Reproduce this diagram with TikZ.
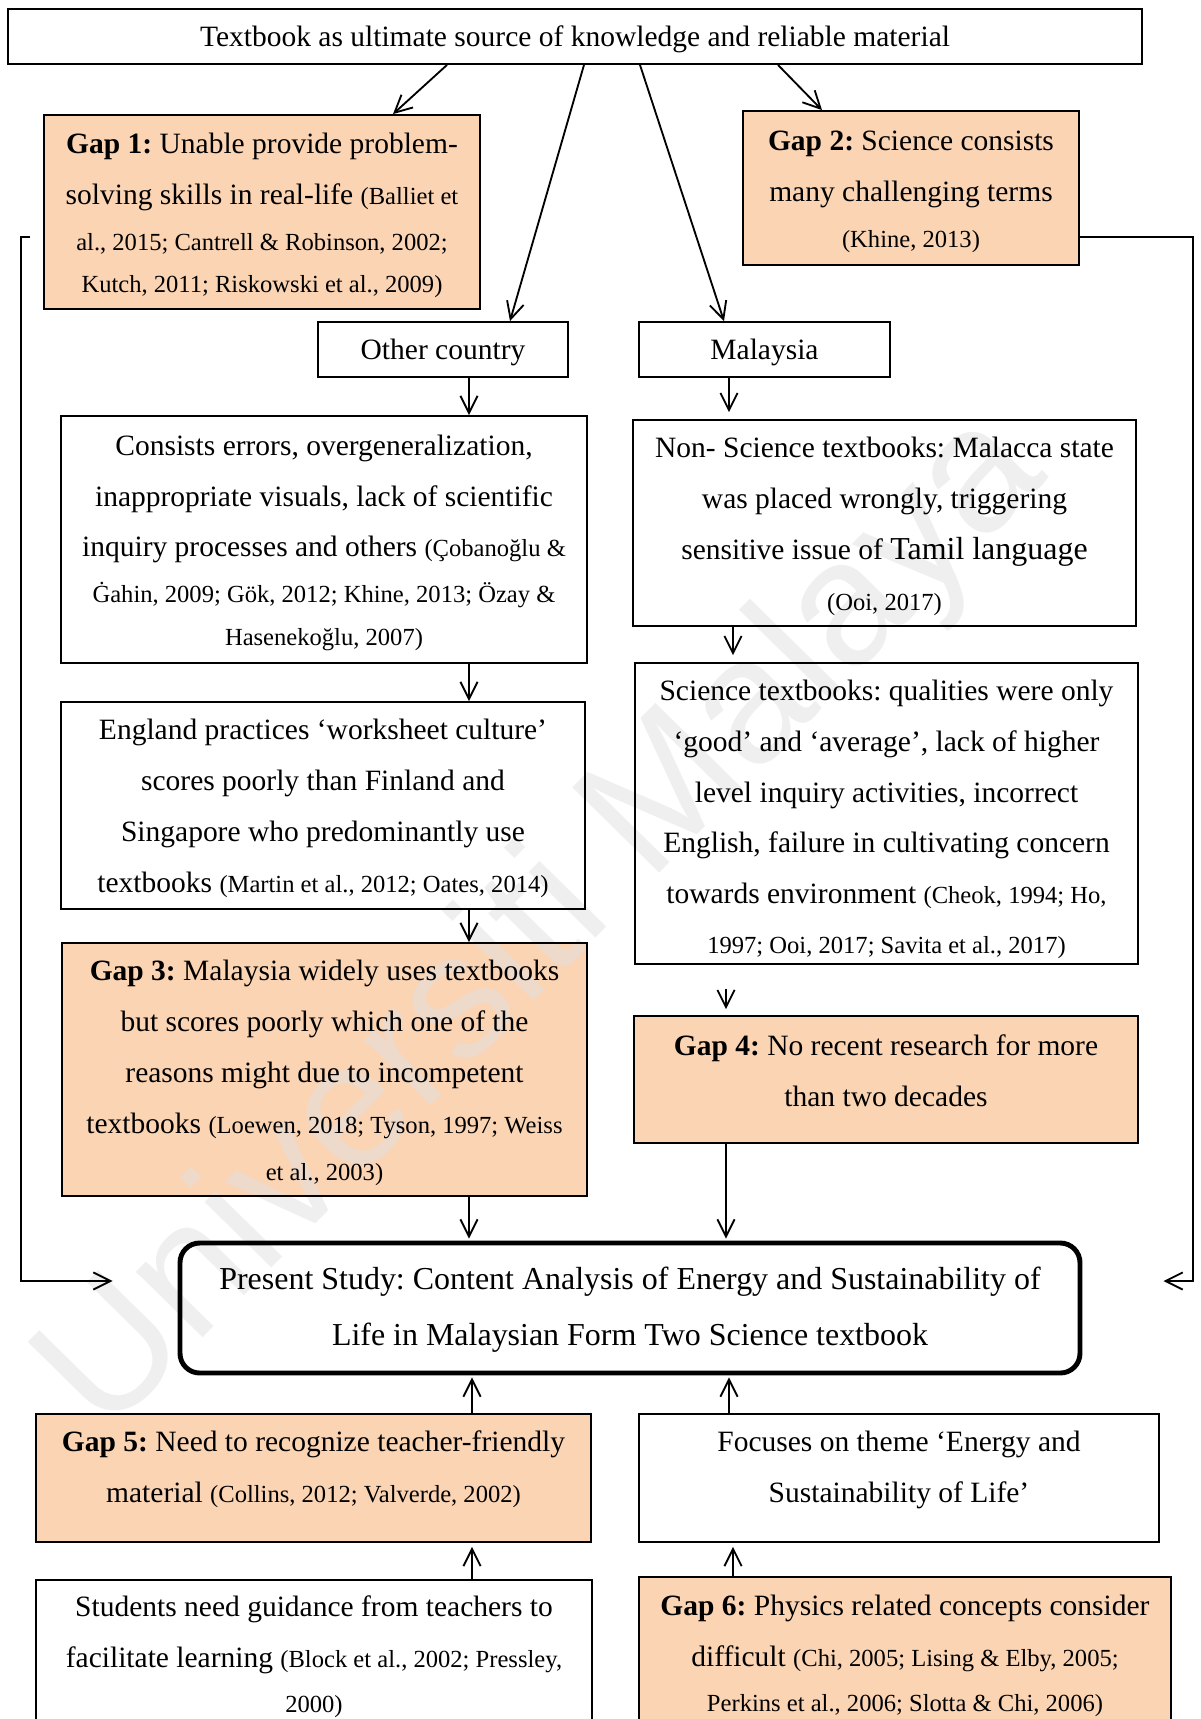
\documentclass[tikz,border=0pt]{standalone}
\usepackage{fontspec}
\setmainfont{Liberation Serif}
\newfontfamily\wmfont{Liberation Sans}
\usetikzlibrary{arrows.meta}
\frenchspacing

\definecolor{gapfill}{HTML}{FBD4B4}
\newcommand{\pxu}{0.4068pt}
\newcommand{\citetxt}[1]{{\fontsize{10}{20.7}\selectfont #1}}
\newcommand{\topstrut}{\rule{0pt}{10.9pt}}

\pgfdeclarelayer{background}
\pgfdeclarelayer{watermark}
\pgfsetlayers{background,watermark,main}

\tikzset{
  plainbox/.style={draw, line width=0.75pt, align=center, inner sep=2pt, font=\fontsize{12}{20.7}\selectfont},
  gapbox/.style={plainbox},
  arr/.style={-{Straight Barb[length=7pt,width=7pt]}, line width=0.75pt},
}

\begin{document}
\begin{tikzpicture}[x=0.4068pt, y=-0.4068pt]
\useasboundingbox (0,0) rectangle (1200,1719);
\clip (0,0) rectangle (1200,1719);

\node[plainbox, minimum width=1134*\pxu, minimum height=55*\pxu] (top) at (575,36.5) {\topstrut Textbook as ultimate source of knowledge and reliable material};

\node[gapbox, minimum width=436*\pxu, minimum height=194*\pxu] (gap1) at (262,212) {\topstrut\textbf{Gap 1:} Unable provide problem-\\solving skills in real-life \citetxt{(Balliet et}\\[-2pt]\citetxt{al., 2015; Cantrell \& Robinson, 2002;}\\[-3.6pt]\citetxt{Kutch, 2011; Riskowski et al., 2009)}};
\node[gapbox, minimum width=336*\pxu, minimum height=154*\pxu] (gap2) at (911,188) {\topstrut\textbf{Gap 2:} Science consists\\many challenging terms\\[-2pt]\citetxt{(Khine, 2013)}};

\node[plainbox, minimum width=250*\pxu, minimum height=55*\pxu] (oc) at (443,349.5) {\topstrut Other country};
\node[plainbox, minimum width=251*\pxu, minimum height=55*\pxu] (mal) at (764.5,349.5) {\topstrut Malaysia};

\node[plainbox, minimum width=526*\pxu, minimum height=247*\pxu] (cons) at (324,539.5) {\topstrut Consists errors, overgeneralization,\\inappropriate visuals, lack of scientific\\inquiry processes and others \citetxt{(Çobanoğlu \&}\\[-2pt]\citetxt{Ġahin, 2009; Gök, 2012; Khine, 2013; Özay \&}\\[-3.4pt]\citetxt{Hasenekoğlu, 2007)}};
\node[plainbox, minimum width=503*\pxu, minimum height=206*\pxu] (nonsci) at (884.5,523) {\topstrut Non- Science textbooks: Malacca state\\was placed wrongly, triggering\\sensitive issue of {\fontsize{13}{20.7}\selectfont Tamil language}\\\citetxt{(Ooi, 2017)}};

\node[plainbox, minimum width=524*\pxu, minimum height=207*\pxu] (eng) at (323,805.5) {\topstrut England practices ‘worksheet culture’\\scores poorly than Finland and\\Singapore who predominantly use\\textbooks \citetxt{(Martin et al., 2012; Oates, 2014)}};
\node[plainbox, minimum width=503*\pxu, minimum height=301*\pxu, text depth=0pt] (sci) at (886.5,813.5) {\topstrut Science textbooks: qualities were only\\‘good’ and ‘average’, lack of higher\\level inquiry activities, incorrect\\English, failure in cultivating concern\\towards environment \citetxt{(Cheok, 1994; Ho,}\\[-0.5pt]\citetxt{1997; Ooi, 2017; Savita et al., 2017)}};

\node[gapbox, minimum width=525*\pxu, minimum height=253*\pxu] (gap3) at (324.5,1069.5) {\topstrut\textbf{Gap 3:} Malaysia widely uses textbooks\\but scores poorly which one of the\\reasons might due to incompetent\\textbooks \citetxt{(Loewen, 2018; Tyson, 1997; Weiss}\\[-1.5pt]\citetxt{et al., 2003)}};
\node[gapbox, minimum width=504*\pxu, minimum height=127*\pxu, text depth=9.7pt] (gap4) at (886,1079.5) {\topstrut\textbf{Gap 4:} No recent research for more\\than two decades};

\node[plainbox, line width=2pt, rounded corners=8pt, minimum width=900*\pxu, minimum height=130*\pxu, font=\fontsize{13}{22.8}\selectfont] (pres) at (630,1308) {\topstrut Present Study: Content Analysis of Energy and Sustainability of\\Life in Malaysian Form Two Science textbook};

\node[gapbox, minimum width=555*\pxu, minimum height=128*\pxu, text depth=11.7pt] (gap5) at (313.5,1478) {\topstrut\textbf{Gap 5:} Need to recognize teacher-friendly\\material \citetxt{(Collins, 2012; Valverde, 2002)}};
\node[plainbox, minimum width=520*\pxu, minimum height=128*\pxu, text depth=11.7pt] (foc) at (899,1478) {\topstrut Focuses on theme ‘Energy and\\Sustainability of Life’};

\node[plainbox, anchor=north, minimum width=556*\pxu, inner ysep=4.1pt, text depth=60pt] (stu) at (314,1579) {\topstrut Students need guidance from teachers to\\facilitate learning \citetxt{(Block et al., 2002; Pressley,}\\[-2.5pt]\citetxt{2000)}};
\node[gapbox, anchor=north, minimum width=532*\pxu, inner ysep=4.8pt, text depth=60pt] (gap6) at (905,1576) {\topstrut\textbf{Gap 6:} Physics related concepts consider\\difficult \citetxt{(Chi, 2005; Lising \& Elby, 2005;}\\[-2.5pt]\citetxt{Perkins et al., 2006; Slotta \& Chi, 2006)}};

% arrow columns
\coordinate (a1) at (447,0); \coordinate (b1) at (393,0);
\coordinate (a2) at (584,0); \coordinate (b2) at (510,0);
\coordinate (a3) at (640,0); \coordinate (b3) at (724,0);
\coordinate (a4) at (778,0); \coordinate (b4) at (822,0);
\coordinate (cL) at (469,0); \coordinate (cL2) at (472,0);
\coordinate (cR1) at (729,0); \coordinate (cR2) at (733,0); \coordinate (cR3) at (726,0);

\draw[arr] (top.south -| a1) -- (gap1.north -| b1);
\draw[arr] (top.south -| a2) -- (oc.north -| b2);
\draw[arr] (top.south -| a3) -- (mal.north -| b3);
\draw[arr] (top.south -| a4) -- (gap2.north -| b4);

\draw[arr] (oc.south -| cL) -- (cons.north -| cL);
\draw[arr] (cons.south -| cL) -- (eng.north -| cL);
\draw[arr] (eng.south -| cL) -- (gap3.north -| cL);
\draw[arr, shorten >=0.8pt] (gap3.south -| cL) -- (pres.north -| cL);

\draw[arr, shorten >=2.8pt] (mal.south -| cR1) -- (nonsci.north -| cR1);
\draw[arr, shorten >=2.8pt] (nonsci.south -| cR2) -- (sci.north -| cR2);
\draw[arr, shorten <=9.8pt, shorten >=2.4pt] (sci.south -| cR3) -- (gap4.north -| cR3);
\draw[arr, shorten >=0.8pt] (gap4.south -| cR3) -- (pres.north -| cR3);

\draw[arr, shorten >=0.8pt] (gap5.north -| cL2) -- (pres.south -| cL2);
\draw[arr, shorten >=0.8pt] (foc.north -| cR1) -- (pres.south -| cR1);
\draw[arr, shorten >=1.6pt] (stu.north -| cL2) -- (gap5.south -| cL2);
\draw[arr, shorten >=1.6pt] (gap6.north -| cR2) -- (foc.south -| cR2);

% side lines
\coordinate (fbL) at (21,237); \coordinate (fbLlow) at (21,1281);
\coordinate (fbR) at (1193,237); \coordinate (fbRlow) at (1193,1281);
\draw[arr] ([xshift=-13*\pxu]gap1.west |- fbL) -- (fbL) -- (fbLlow) -- ([xshift=-65*\pxu]pres.west |- fbLlow);
\draw[arr] (gap2.east |- fbR) -- (fbR) -- (fbRlow) -- ([xshift=81*\pxu]pres.east |- fbRlow);

\begin{pgfonlayer}{background}
\fill[white] (0,0) rectangle (1200,1719);
\foreach \g in {gap1,gap2,gap3,gap4,gap5,gap6}
  \fill[gapfill] (\g.south west) rectangle (\g.north east);
\end{pgfonlayer}

\begin{pgfonlayer}{watermark}
\node[rotate=45.5, text=black!12, opacity=0.5, font=\wmfont\fontsize{72}{86}\selectfont] (wm) at (545,925) {Universiti Malaya};
\end{pgfonlayer}

\end{tikzpicture}
\end{document}
